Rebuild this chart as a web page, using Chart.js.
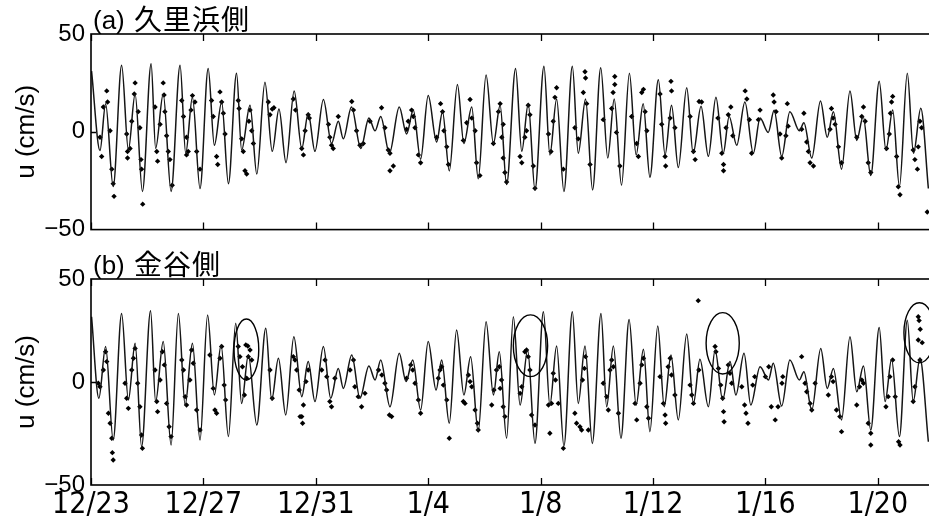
<!DOCTYPE html>
<html>
<head>
<meta charset="utf-8">
<script src="https://cdn.jsdelivr.net/npm/chart.js@4.4.0/dist/chart.umd.min.js"></script>
<style>
body{margin:0;background:#fff;width:929px;height:524px;overflow:hidden;position:relative}
#wa{position:absolute;left:0;top:0;width:940px;height:250px}
#wb{position:absolute;left:0;top:250px;width:940px;height:274px}
</style>
</head>
<body>
<div id="wa"><canvas id="ca"></canvas></div>
<div id="wb"><canvas id="cb"></canvas></div>
<script>
// x axis: days after 12/23
const tickDays = [0, 4, 8, 12, 16, 20, 24, 28];
const tickLabels = ["12/23", "12/27", "12/31", "1/4", "1/8", "1/12", "1/16", "1/20"];
const titleA = ["(a)", "久里浜側"];
const titleB = ["(b)", "金谷側"];

// (a) computed tide, peaks and troughs
const lineTA = [
  0.02,0.32,0.52,0.79,1.09,1.33,1.57,1.83,2.14,2.30,
  2.57,2.85,3.17,3.37,3.61,3.88,4.17,4.39,4.65,4.89,
  5.18,5.36,5.66,5.90,6.19,6.45,6.69,6.94,7.23,7.50,
  7.73,7.97,8.27,8.56,8.80,8.98,9.27,9.60,9.89,10.11,
  10.31,10.62,10.97,11.23,11.47,11.73,12.00,12.30,12.51,12.75,
  13.04,13.27,13.55,13.78,14.06,14.32,14.56,14.79,15.11,15.33,
  15.56,15.80,16.12,16.33,16.57,16.83,17.13,17.34,17.60,17.85,
  18.14,18.39,18.62,18.88,19.16,19.40,19.65,19.89,20.19,20.43,
  20.66,20.90,21.20,21.43,21.71,21.97,22.24,22.50,22.71,22.98,
  23.27,23.57,23.81,24.10,24.31,24.58,24.87,25.21,25.37,25.65,
  25.96,26.20,26.42,26.71,27.01,27.25,27.48,27.75,28.05,28.29,
  28.53,28.77,29.05,29.27,29.53,29.80];
const lineUA = [
  31,-9.6,14.4,-28,34,-9.3,19.3,-30.5,34.8,-8.5,
  19.3,-30.5,34,-11,17.6,-29,32.4,-6.9,15.2,-26.5,
  29.9,-9.3,13.6,-21.6,25.3,-10,11.6,-15.8,20.9,-8.5,
  9.5,-10,16.5,-6,5.4,-3.6,12.7,-8.5,7,0.5,
  7.8,-11,12.7,-1.1,11,-14,18.5,-5.2,10.3,-20,
  24.2,-6,12.7,-24,29,-6,13.6,-27,32.4,-10,
  14.4,-29.7,33.5,-11.8,16.8,-30.5,33.5,-11,16.8,-29.7,
  32.7,-13.4,16.8,-27.3,29.9,-11.8,14.4,-23.2,26.6,-11.8,
  13.6,-18.3,22.5,-11,13,-12.5,17.6,-11,7.8,-6.9,
  15.2,-11,7,-0.3,11,-12.6,10.3,0.5,4.6,-13.4,
  15.7,-2.8,10.3,-19.1,20.9,-4.4,7.8,-22.4,25.8,-9.3,
  11.1,-28,29.9,-11,12,-29];

// (a) observed
const dotTA = [
  0.32,0.38,0.44,0.56,0.59,0.68,0.74,0.79,0.82,1.27,
  1.30,1.30,1.39,1.45,1.54,1.57,1.68,1.74,1.78,1.80,
  1.84,2.28,2.34,2.37,2.46,2.57,2.60,2.63,2.69,2.75,
  2.81,2.89,3.23,3.29,3.40,3.40,3.46,3.56,3.61,3.70,
  3.76,3.88,4.29,4.35,4.47,4.51,4.59,4.65,4.71,4.77,
  5.24,5.27,5.36,5.42,5.48,5.54,5.62,5.66,5.72,5.78,
  6.31,6.37,6.45,6.51,7.20,7.28,7.50,7.56,7.62,7.73,
  7.77,8.45,8.50,8.56,8.62,8.80,9.28,9.34,9.45,9.57,
  9.69,9.93,10.34,10.46,10.58,10.64,10.64,10.76,11.23,11.29,
  11.41,11.47,11.53,11.65,11.73,12.30,12.44,12.51,12.56,12.66,
  12.72,13.25,13.37,13.49,13.55,13.67,13.72,13.84,14.32,14.50,
  14.56,14.67,14.62,14.67,14.73,14.79,15.27,15.33,15.44,15.50,
  15.56,15.62,15.74,15.80,16.28,16.37,16.45,16.51,16.57,16.81,
  17.22,17.34,17.52,17.58,17.60,17.64,17.76,18.23,18.53,18.58,
  18.64,18.64,18.70,18.82,19.24,19.42,19.48,19.60,19.66,19.72,
  19.78,20.25,20.31,20.43,20.45,20.61,20.66,20.64,20.78,21.32,
  21.44,21.50,21.64,21.73,22.31,22.45,22.51,22.51,22.60,22.68,
  22.77,22.84,23.28,23.34,23.43,23.51,23.75,23.81,24.28,24.31,
  24.38,24.52,24.58,24.73,24.78,24.81,25.29,25.37,25.47,25.53,
  25.59,25.71,26.30,26.35,26.41,26.48,26.60,26.71,27.25,27.43,
  27.49,27.55,27.66,27.75,28.31,28.41,28.45,28.49,28.53,28.67,
  28.73,28.79,29.26,29.32,29.41,29.44,29.50,29.56,29.76];
const dotUA = [
  -2.8,-12.6,12.7,20.9,15.2,0.5,-19.1,-26.5,-33,-1.1,
  -10.1,-13.4,-8.5,5.4,19.3,25,10.3,2.1,-14.2,-19.1,
  -37,12.7,-10.1,-15,3.8,25,18.8,10.3,-2,-10.1,
  -14.2,-27.3,16,7.8,-2.8,-11.8,-10.1,11.1,18.5,15.2,
  -10.1,-19.1,16,7.8,-12.6,-16.7,20.4,15.2,9.5,-1.1,
  16,11.9,-3.6,-10.1,-19.9,-21.6,5.4,11.1,0.5,-6,
  15.2,8.7,11.6,12.3,16.8,11.1,-8.5,-11.8,0.5,8.7,
  7,3.8,-2.8,-6.9,-8.5,7.8,15.5,11.1,0.5,-6.9,
  -6,5.4,12.3,2.1,-9.3,-11,-19.9,-17.5,1.3,5.4,
  11.1,7.8,2.1,-11.8,-15.8,-2.8,14.4,10.3,0.5,-7.7,
  -16.7,-4.4,4.6,16.5,7,0.5,-15.8,-22.4,-6,10.3,
  14.4,3.8,-2.8,-13.4,-20.8,-25.7,-12.6,-15.8,-2.8,0.5,
  13.6,8.7,-17.5,-28.9,-1.1,-10.1,5.4,17.6,22.5,-19.1,
  2.1,-3.6,20.1,30.7,27.5,14.4,-16.7,6.2,11.9,20.1,
  24.2,28.3,-0.3,-17.5,7.8,-6,-12.6,20.1,21.7,10.3,
  0.5,19.3,3.8,-12.6,-17.5,7,20.9,25.8,2.1,7.8,
  -10.1,-14.2,15.5,15.2,7,-11,-16.7,-19.9,2.1,8.7,
  12.7,-2,20.9,16.8,6.2,-11,6.2,11.1,18.8,15.2,
  10.3,-1.1,-13.4,-2,14.4,2.9,1.3,9.5,-5.2,-10.1,
  -15.8,-17.5,1.3,11.9,7,3.8,-7.7,-15.8,-2.8,7.8,
  12.7,5.4,-15.8,-20.8,-8.5,-1.1,9.5,15.2,18.1,-12.6,
  -28.1,-32.2,-9.3,-14.2,-19.1,-7.7,5.4,2.1,-41];

// (b) computed tide, peaks and troughs
const lineTB = [
  0.02,0.28,0.52,0.79,1.09,1.33,1.57,1.80,2.12,2.30,
  2.57,2.85,3.11,3.35,3.61,3.88,4.15,4.39,4.63,4.89,
  5.15,5.36,5.60,5.90,6.22,6.43,6.67,6.93,7.22,7.50,
  7.73,7.97,8.27,8.53,8.80,8.98,9.28,9.57,9.89,10.11,
  10.31,10.64,10.97,11.21,11.45,11.73,12.00,12.28,12.48,12.75,
  13.01,13.27,13.51,13.78,14.06,14.32,14.53,14.79,15.03,15.27,
  15.54,15.80,16.10,16.33,16.57,16.83,17.13,17.34,17.58,17.84,
  18.15,18.35,18.59,18.86,19.15,19.40,19.66,19.89,20.17,20.40,
  20.64,20.90,21.20,21.44,21.67,21.97,22.21,22.48,22.74,22.95,
  23.24,23.48,23.81,24.11,24.28,24.58,24.87,25.21,25.37,25.65,
  25.97,26.20,26.42,26.71,27.01,27.25,27.49,27.75,28.05,28.26,
  28.49,28.77,29.05,29.26,29.50,29.80];
const lineUB = [
  31.7,-7.9,17.2,-28.2,33.3,-8.7,18.8,-31.4,34.6,-9.5,
  19.6,-30.6,33.3,-11.2,18.8,-28.2,32.5,-6.3,18,-26.5,
  28.5,-10.4,13.1,-20.9,26.1,-8.7,11.5,-16,22,-7.1,
  9.9,-9.5,17.2,-7.9,6.6,-3.1,13.1,-7.9,7.8,1,
  10.7,-12,13.9,0.2,10.7,-13.6,19.6,-3.9,10.7,-20,
  25.2,-6.3,12.3,-24.1,29.3,-6.3,14.7,-27.3,31.7,-11.2,
  15.5,-29.8,34.1,-11.2,17.5,-31.1,34.1,-10.4,17.5,-29.8,
  33.3,-12,17.5,-27.3,30.4,-11.2,15.9,-24.1,27.2,-12,
  13.1,-18.4,23.3,-10.4,11,-12,15.5,-8.7,9.9,-6.3,
  13.9,-11.2,7.4,1,9.1,-11.7,10.7,1,5,-13.6,
  16.3,-3.1,6.6,-18.4,22,-4.7,7.8,-23.3,26.5,-9.5,
  11,-26.5,30,-9.5,11.5,-29];

// (b) observed
const dotTB = [
  0.26,0.32,0.44,0.52,0.56,0.62,0.68,0.74,0.76,0.79,
  1.21,1.27,1.33,1.45,1.51,1.57,1.66,1.74,1.80,1.83,
  2.28,2.34,2.37,2.46,2.54,2.61,2.69,2.78,2.85,3.23,
  3.29,3.35,3.40,3.52,3.58,3.64,3.76,3.88,4.23,4.35,
  4.41,4.47,4.59,4.65,4.74,4.79,5.24,5.30,5.39,5.46,
  5.51,5.58,5.66,5.60,5.54,5.72,6.37,6.45,7.20,7.26,
  7.44,7.32,7.41,7.50,7.53,7.56,7.65,7.73,8.21,8.33,
  8.39,8.50,8.56,8.68,9.22,9.34,9.39,9.51,9.63,9.75,
  10.23,10.35,10.46,10.52,10.62,10.70,11.23,11.38,11.45,11.53,
  11.65,11.73,12.36,12.42,12.48,12.54,12.66,12.75,13.25,13.31,
  13.43,13.49,13.55,13.67,13.75,13.78,14.26,14.34,14.43,14.53,
  14.61,14.56,14.67,14.73,15.27,15.33,15.44,15.50,15.56,15.62,
  15.68,15.80,16.28,16.33,16.39,16.45,16.53,16.63,16.81,17.22,
  17.28,17.40,17.46,17.49,17.56,17.60,17.70,18.23,18.35,18.41,
  18.47,18.53,18.59,18.77,19.36,19.42,19.54,19.60,19.66,19.78,
  19.84,20.25,20.37,20.43,20.45,20.54,20.61,20.66,20.78,21.32,
  21.38,21.44,21.61,21.63,22.21,22.24,22.33,22.41,22.48,22.51,
  22.53,22.68,22.74,22.80,23.16,23.26,23.31,23.38,23.55,23.62,
  24.00,24.12,24.21,24.35,24.45,24.59,24.62,25.29,25.41,25.47,
  25.59,25.65,25.77,26.24,26.35,26.41,26.53,26.65,26.71,27.25,
  27.35,27.43,27.49,27.66,27.75,27.75,28.29,28.37,28.43,28.53,
  28.62,28.74,28.79,29.26,29.32,29.44,29.47,29.51,29.44,29.58,
  29.50];
const dotUB = [
  -0.6,-2.3,5.8,14.7,9.9,-15.2,-20,-27.3,-34.3,-37.9,
  -0.6,-7.9,-12.8,5.8,11.5,16.3,-0.6,-12,-25.7,-32.2,
  5.8,-9.5,-14.4,1,14.7,8.3,-10.4,-21.7,-26.5,10.7,
  5.8,-7.1,-11.2,1,15.5,9.1,-13.6,-23.3,13.1,-3.1,
  -13.6,-15.2,11.5,17.2,-1.5,-8.7,17.2,12.3,7.4,-6.3,
  18,17.5,15.5,12.3,1.8,10.7,5.8,-7.9,12.3,10.7,
  -16.8,5.8,-3.9,-16.8,-20,-11.2,0.2,5.8,5.8,10.7,
  2.6,-9.5,-12,1.8,5.8,10.7,-2.3,-7.1,-12,-5.5,
  5.8,3.4,-0.6,-3.9,-16,-16.8,1.8,8.3,5.8,-0.6,
  -8.7,-15.2,1.8,5.8,7.4,-1.5,-8.7,-27.3,-9.5,-10.4,
  3.4,0.2,-2.3,-13.6,-20,-23.3,-11.2,-3.9,5.8,7.4,
  1,-3.1,-12,-16.8,-5.5,-2.3,14.7,15.5,12.3,5.8,
  -16,-20.9,-11.2,-24.9,-10.4,4.2,1,-10.4,-32.2,-15.2,
  -20,-21.7,-23.3,1,6.6,12.3,-23.3,-0.6,-7.1,-13.6,
  5.8,10.7,7.4,-15.2,-10.4,-18.4,-0.6,8.3,11.5,-12,
  -17.6,2.6,-10.4,-16,-20,7.4,11.5,3.4,-6.3,-1.5,
  -6.3,-10.4,39.5,5.8,17.2,14.7,6.6,-1.5,-7.9,-14.4,
  -19.3,8.3,4.2,-0.6,-2.3,-11.2,-15.2,-20,-1.5,2.6,
  2.6,7.4,-12,-18.4,-12,-0.6,2.6,12.3,-0.6,-4.7,
  -10.4,-13.6,-0.6,-6.3,2.6,0.2,-13.6,-16.8,-24.1,-11.2,
  -2.3,1,-0.6,-20,-24.9,-30.6,-12,-7.1,2.6,10.7,
  -7.1,-29,-30.6,-9.5,-2.3,31.7,29.8,25.6,20.4,19.1,
  10.7];

// (b) hand-drawn rings: centre day, centre u, half width (days), half height (u)
const ringT = [5.53, 15.64, 22.48, 29.48];
const ringU = [15.8, 17.6, 18.8, 23.9];
const ringDT = [0.44, 0.61, 0.59, 0.55];
const ringDU = [14.8, 15, 14.9, 14.6];

const pts = (ts, us) => ts.map((t, i) => ({ x: t, y: us[i] }));
const minus = v => v < 0 ? "\u2212" + Math.abs(v) : "" + v;

// frame, inward ticks, panel title, rings
const frame = {
  id: "frame",
  afterDatasetsDraw(chart, args, opts) {
    const { ctx, chartArea: a, scales: { x, y } } = chart;
    ctx.save();
    ctx.strokeStyle = "#000";
    ctx.lineWidth = 1.6;
    ctx.strokeRect(a.left, a.top, a.right - a.left, a.bottom - a.top);
    ctx.lineWidth = 1.3;
    ctx.beginPath();
    tickDays.forEach(v => {
      const px = Math.round(x.getPixelForValue(v)) + 0.5;
      ctx.moveTo(px, a.top); ctx.lineTo(px, a.top + 7);
      ctx.moveTo(px, a.bottom); ctx.lineTo(px, a.bottom - 7);
    });
    const py = Math.round(y.getPixelForValue(0)) + 0.5;
    ctx.moveTo(a.left, py); ctx.lineTo(a.left + 5, py);
    ctx.stroke();

    if (opts.rings) {
      ctx.save();
      ctx.beginPath();
      ctx.rect(a.left, a.top, a.right - a.left, a.bottom - a.top);
      ctx.clip();
      ctx.lineWidth = 1.4;
      ringT.forEach((t, i) => {
        const cx = x.getPixelForValue(t), cy = y.getPixelForValue(ringU[i]);
        const rx = x.getPixelForValue(t + ringDT[i]) - cx;
        const ry = cy - y.getPixelForValue(ringU[i] + ringDU[i]);
        ctx.beginPath();
        ctx.ellipse(cx, cy, rx, ry, 0, 0, Math.PI * 2);
        ctx.stroke();
      });
      ctx.restore();
    }

    // panel title: latin part then kanji
    ctx.fillStyle = "#000";
    ctx.textBaseline = "alphabetic";
    ctx.textAlign = "left";
    ctx.font = '26px "Liberation Sans", sans-serif';
    ctx.fillText(opts.title[0], a.left + 2, a.top - 5);
    ctx.font = '28px "Noto Sans CJK JP", sans-serif';
    ctx.letterSpacing = "1px";
    ctx.fillText(opts.title[1], a.left + 43, a.top - 4);
    ctx.restore();
  }
};

function makePanel(id, lineT, lineU, dotT, dotU, title, withX, rings) {
  return new Chart(document.getElementById(id), {
    type: "line",
    data: {
      datasets: [
        {
          data: pts(lineT, lineU),
          borderColor: "#151515",
          borderWidth: 1.5,
          pointRadius: 0,
          cubicInterpolationMode: "monotone",
          fill: false
        },
        {
          type: "scatter",
          data: pts(dotT, dotU),
          showLine: false,
          pointStyle: "rectRot",
          pointRadius: 2.7,
          backgroundColor: "#000",
          borderWidth: 0
        }
      ]
    },
    options: {
      responsive: true,
      maintainAspectRatio: false,
      animation: false,
      devicePixelRatio: 1,
      layout: { padding: withX ? { top: 29, right: 6, bottom: 0, left: 0 } : { top: 34, right: 6, bottom: 12, left: 0 } },
      plugins: { legend: { display: false }, tooltip: { enabled: false }, frame: { title: title, rings: rings } },
      scales: {
        x: {
          type: "linear",
          min: 0,
          max: 30,
          display: withX,
          grid: { display: false, drawTicks: false },
          border: { display: false },
          afterBuildTicks: s => { s.ticks = tickDays.map(v => ({ value: v })); },
          afterFit: s => { if (withX) s.height = 39; },
          ticks: {
            padding: 2,
            maxRotation: 0,
            autoSkip: false,
            color: "#000",
            font: { family: '"Liberation Sans Narrow", "DejaVu Sans Condensed", sans-serif', size: 30 },
            callback: v => tickLabels[tickDays.indexOf(v)] ?? ""
          }
        },
        y: {
          min: -50,
          max: 50,
          grid: { display: false, drawTicks: false },
          border: { display: false },
          afterFit: s => { s.width = 91; },
          ticks: {
            stepSize: 50,
            padding: 6,
            color: "#000",
            font: { family: '"Liberation Sans", Arial, sans-serif', size: 24 },
            callback: v => minus(v)
          },
          title: {
            display: true,
            text: "u (cm/s)",
            color: "#000",
            padding: { top: 11, bottom: 0 },
            font: { family: '"Liberation Sans", Arial, sans-serif', size: 26 }
          }
        }
      }
    },
    plugins: [frame]
  });
}

makePanel("ca", lineTA, lineUA, dotTA, dotUA, titleA, false, false);
makePanel("cb", lineTB, lineUB, dotTB, dotUB, titleB, true, true);
</script>
</body>
</html>
